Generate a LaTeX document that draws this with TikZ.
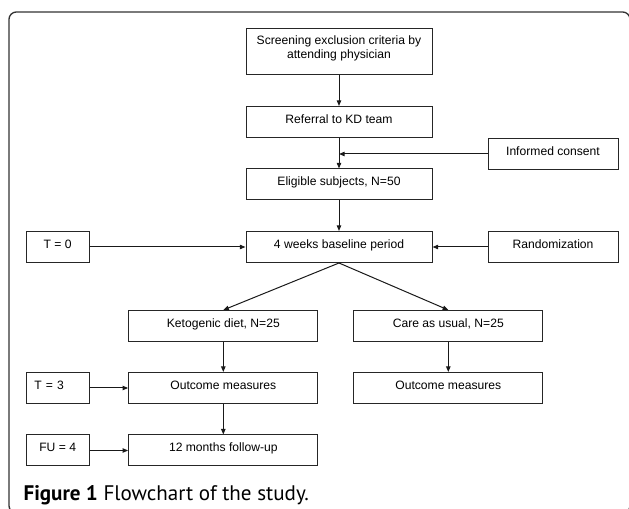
\documentclass[tikz,border=0pt]{standalone}
\usepackage{fontspec}
\setmainfont{Liberation Sans}
\newfontfamily\capfont{PT Sans}
\usetikzlibrary{arrows.meta,positioning}

\tikzset{
  box/.style={draw=black!85, line width=0.75pt, inner sep=0pt,
    minimum height=23.25pt, text height=6.3pt, text depth=4.6pt,
    font=\fontsize{9.1}{10.3}\selectfont},
  mainbox/.style={box, minimum width=139.5pt},
  sidebox/.style={box, minimum width=97.5pt},
  timebox/.style={box, minimum width=47.25pt},
  armbox/.style={box, minimum width=142pt},
  flow/.style={draw=black!90, line width=0.75pt, -{Triangle[length=4.2pt,width=3.3pt]}}
}

\begin{document}
\begin{tikzpicture}[x=0.75pt, y=-0.75pt]

	%% page size of the reference (pixels)
	\useasboundingbox (0,0) rectangle (629,509);

	%% outer frame, cut off at the right and bottom
	\begin{scope}
	\clip (0,0) rectangle (629,509);
	\draw[black!80, line width=1pt, rounded corners=5.5pt] (9,12) rectangle (630,513);
	\end{scope}

	%% centres of the boxes
	\coordinate (M1) at (339,52);    % screening
	\coordinate (M2) at (339,122);   % referral
	\coordinate (M3) at (339,184.5); % eligible
	\coordinate (M4) at (339,247);   % baseline
	\coordinate (S1) at (553,154);   % consent
	\coordinate (S2) at (553,247);   % randomization
	\coordinate (K1) at (223.3,326); % ketogenic arm
	\coordinate (K2) at (223.3,388);
	\coordinate (K3) at (223.3,450.5);
	\coordinate (C1) at (448.3,326); % care as usual arm
	\coordinate (C2) at (448.3,388);
	\coordinate (T0) at (57.7,247);
	\coordinate (T3) at (57.7,388);
	\coordinate (T4) at (57.7,450.5);

	%% boxes
	\node[mainbox, minimum height=34.5pt, align=center, text height=, text depth=7.5pt] (screen) at (M1)
	  {Screening exclusion criteria by\\attending physician};
	\node[mainbox] (referral) at (M2) {Referral to KD team};
	\node[mainbox] (eligible) at (M3) {Eligible subjects, N=50};
	\node[mainbox] (baseline) at (M4) {4 weeks baseline period};
	\node[sidebox] (consent) at (S1) {Informed consent};
	\node[sidebox] (random) at (S2) {Randomization};
	\node[timebox] (tzero) at (T0) {T = 0};
	\node[armbox] (keto) at (K1) {Ketogenic diet, N=25};
	\node[armbox] (care) at (C1) {Care as usual, N=25};
	\node[armbox] (ketoout) at (K2) {Outcome measures};
	\node[armbox] (careout) at (C2) {Outcome measures};
	\node[timebox, text width=34.85pt, inner xsep=6.2pt, align=left] (tthree) at (T3) {T = 3};
	\node[armbox] (followup) at (K3) {12 months follow-up};
	\node[timebox] (tfour) at (T4) {FU = 4};

	%% arrows
	\coordinate (join) at (referral.south |- consent.west);
	\draw[flow] (screen) -- (referral);
	\draw[flow] (referral) -- (eligible);
	\draw[flow] (consent) -- (join);
	\draw[flow] (eligible) -- (baseline);
	\draw[flow] (tzero) -- (baseline);
	\draw[flow] (random) -- (baseline);
	\draw[flow] (baseline.south) -- (keto.north);
	\draw[flow] (baseline.south) -- (care.north);
	\draw[flow] (keto) -- (ketoout);
	\draw[flow] (care) -- (careout);
	\draw[flow] (tthree) -- (ketoout);
	\draw[flow] (ketoout) -- (followup);
	\draw[flow] (tfour) -- (followup);

	%% caption
	\node[anchor=west, inner sep=0pt, font=\capfont\fontsize{15.8}{18}\selectfont] (caption) at (23.3,495)
	  {\textbf{Figure 1} Flowchart of the study.};
\end{tikzpicture}
\end{document}
